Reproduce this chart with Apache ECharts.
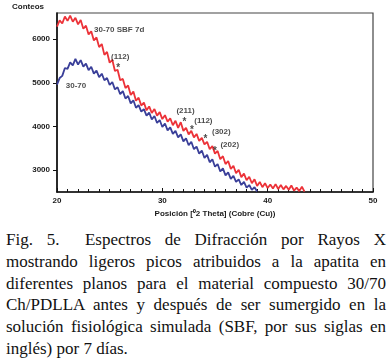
<!DOCTYPE html>
<html>
<head>
<meta charset="utf-8">
<script src="https://cdn.jsdelivr.net/npm/echarts@6/dist/echarts.min.js"></script>
<style>
  html, body { margin: 0; padding: 0; background: #fff; }
  #chart { position: absolute; left: 0; top: 0; width: 392px; height: 222px; }
  #caption {
    position: absolute; left: 6px; top: 229px; width: 380px;
    font-family: "Liberation Serif", "DejaVu Serif", serif;
    font-size: 17px; line-height: 21.8px; color: #111;
  }
  #caption div { text-align: justify; text-align-last: justify; white-space: nowrap; }
  #caption div.last { text-align-last: left; }
</style>
</head>
<body>
<div id="chart"></div>
<div id="caption">
  <div>Fig. 5.&emsp;&ensp;Espectros de Difracción por Rayos X</div>
  <div>mostrando ligeros picos atribuidos a la apatita en</div>
  <div>diferentes planos para el material compuesto 30/70</div>
  <div>Ch/PDLLA antes y después de ser sumergido en la</div>
  <div>solución fisiológica simulada (SBF, por sus siglas en</div>
  <div class="last">inglés) por 7 días.</div>
</div>
<script>
// 2 theta grid: first angle and step of the scans
var angleStart = 20;
var angleStep = 0.25;

// 30-70 SBF 7d (red), from 20 to 43.5 deg
var countsSBF = [
  6290, 6430, 6360, 6520, 6420, 6540, 6400, 6490, 6340, 6440,
  6240, 6310, 6110, 6180, 5970, 6040, 5820, 5890, 5640, 5710,
  5460, 5530, 5270, 5300, 5060, 5090, 4880, 4940, 4720, 4800,
  4590, 4660, 4480, 4550, 4370, 4460, 4310, 4400, 4250, 4330,
  4170, 4260, 4110, 4190, 4030, 4130, 3970, 4100, 3900, 3970,
  3820, 3900, 3750, 3830, 3670, 3740, 3590, 3650, 3480, 3550,
  3380, 3440, 3250, 3320, 3140, 3210, 3030, 3100, 2930, 3010,
  2840, 2920, 2770, 2850, 2700, 2790, 2640, 2730, 2610, 2700,
  2590, 2670, 2580, 2680, 2570, 2660, 2560, 2640, 2550, 2650,
  2530, 2600, 2520, 2620, 2510
];

// 30-70 (blue), from 20 to 39 deg
var counts3070 = [
  4960, 5110, 5160, 5340, 5320, 5470, 5400, 5550, 5420, 5520,
  5370, 5440, 5290, 5370, 5210, 5280, 5130, 5210, 5060, 5110,
  4950, 5020, 4850, 4900, 4740, 4810, 4640, 4700, 4530, 4600,
  4430, 4490, 4340, 4400, 4250, 4320, 4160, 4240, 4080, 4150,
  3990, 4070, 3910, 3980, 3830, 3900, 3750, 3820, 3660, 3730,
  3570, 3650, 3480, 3540, 3380, 3450, 3280, 3350, 3180, 3250,
  3080, 3140, 2970, 3040, 2880, 2950, 2800, 2870, 2730, 2790,
  2660, 2730, 2600, 2660, 2550, 2610, 2510
];

var yTicks = [3000, 4000, 5000, 6000];

// apatite peak markers [2theta, counts]
var peakStars = [[25.8, 5370], [32.1, 4140], [32.8, 3950], [34.1, 3750], [35.0, 3470]];
// plane labels [2theta, counts, text]
var peakLabels = [[26.0, 5600, '(112)'], [32.2, 4360, '(211)'], [33.9, 4136, '(112)'],
                  [35.6, 3880, '(302)'], [36.4, 3590, '(202)']];
// curve names [2theta, counts, text]
var curveNames = [[25.9, 6220, '30-70 SBF 7d'], [21.8, 4930, '30-70']];

function toPairs(values) {
  return values.map(function (v, i) { return [angleStart + i * angleStep, v]; });
}

var boldFont = { fontFamily: 'Liberation Sans, Arial, sans-serif', fontWeight: 'bold', fontSize: 8, color: '#1a1a1a' };

var chart = echarts.init(document.getElementById('chart'));

var option = {
  animation: false,
  grid: {
    left: 57, right: 19, top: 13, bottom: 30,
    outerBoundsMode: 'none',
    show: true,
    borderColor: '#444',
    borderWidth: 1.2
  },
  xAxis: {
    type: 'value',
    min: 20, max: 50, interval: 10,
    name: 'Posición [\u20702 Theta] (Cobre (Cu))',
    nameLocation: 'middle',
    nameGap: 18,
    nameTextStyle: boldFont,
    axisLine: { lineStyle: { color: '#111', width: 1.6 } },
    axisTick: { inside: true, length: 4, lineStyle: { color: '#111', width: 1 } },
    minorTick: { show: true, splitNumber: 10, length: 3, lineStyle: { color: '#111', width: 1 } },
    axisLabel: Object.assign({ margin: 5 }, boldFont),
    splitLine: { show: false }
  },
  yAxis: {
    type: 'value',
    min: 2500, max: 6600,
    name: 'Conteos',
    nameLocation: 'end',
    nameGap: 0,
    nameTextStyle: Object.assign({ align: 'left', padding: [0, 0, 2, -45] }, boldFont),
    axisLine: { lineStyle: { color: '#111', width: 1.6 } },
    axisTick: { inside: false, length: 4, customValues: yTicks, lineStyle: { color: '#111', width: 1 } },
    axisLabel: Object.assign({ margin: 7, customValues: yTicks, formatter: function (v) { return String(v); } }, boldFont),
    splitLine: { show: false }
  },
  series: [
    {
      name: '30-70',
      type: 'line',
      data: toPairs(counts3070),
      showSymbol: false,
      lineStyle: { color: '#3a3f99', width: 1.8 },
      z: 2
    },
    {
      name: '30-70 SBF 7d',
      type: 'line',
      data: toPairs(countsSBF),
      showSymbol: false,
      lineStyle: { color: '#ec3238', width: 1.8 },
      z: 3
    },
    {
      type: 'scatter',
      data: peakStars,
      symbolSize: 0,
      silent: true,
      label: {
        show: true, position: 'inside', formatter: '*',
        fontFamily: 'Liberation Sans, Arial, sans-serif', fontWeight: 'bold', fontSize: 10, color: '#1a1a1a',
        offset: [0, 2]
      },
      z: 5
    },
    {
      type: 'scatter',
      data: peakLabels.concat(curveNames),
      symbolSize: 0,
      silent: true,
      label: Object.assign({
        show: true, position: 'inside',
        formatter: function (p) { return p.data[2]; }
      }, boldFont),
      z: 5
    }
  ]
};

chart.setOption(option);
</script>
</body>
</html>
